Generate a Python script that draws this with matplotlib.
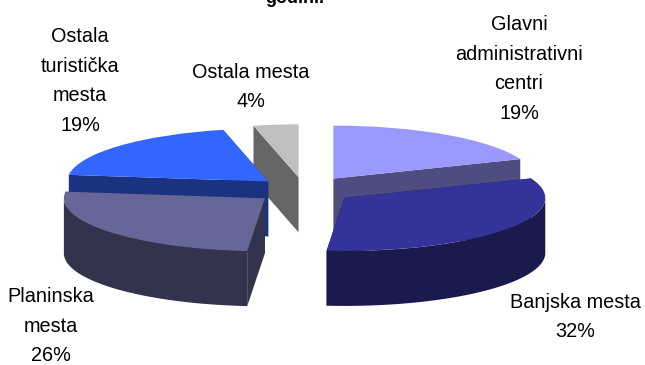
import numpy as np
import matplotlib
matplotlib.use("Agg")
import matplotlib.pyplot as plt

plt.rcParams['font.family'] = ['Liberation Sans', 'DejaVu Sans']

# clockwise from the top
values = [19, 32.4, 25.6, 19.4, 3.6]
labels = ["Glavni\nadministrativni\ncentri\n19%", "Banjska mesta\n32%", "Planinska\nmesta\n26%",
          "Ostala\nturistička\nmesta\n19%", "Ostala mesta\n4%"]
explode = [0.26, 0.25, 0.25, 0.24, 0.24]
top_colors = ["#9999FF", "#333399", "#666699", "#3366FF", "#C0C0C0"]
side_colors = ["#4D4D80", "#1A1A4D", "#33334D", "#1A3380", "#666666"]
draw_order = [4, 0, 3, 2, 1]

# label centres in pixels
label_x = [519, 575, 51, 80, 251]
label_y = [69, 317, 326, 81, 87]

W, H = 645, 365
CX, CY = 304, 190   # pie centre, px
RX, RY = 201, 53    # px per data unit
DEPTH = 55 / RY

fig = plt.figure(figsize=(W / 100, H / 100), dpi=100)
ax = fig.add_axes([0, 0, 1, 1])
wedges, _ = ax.pie(values, explode=explode, colors=top_colors, startangle=90, counterclock=False,
                   wedgeprops={"linewidth": 0})
# squash the pie: different scales on x and y
ax.set_aspect("auto")
ax.set_xlim(-CX / RX, (W - CX) / RX)
ax.set_ylim(-(H - CY) / RY, CY / RY)
ax.axis("off")


def draw_sides(w, color, z):
    x0, y0 = w.center
    t1, t2 = np.radians(w.theta1), np.radians(w.theta2)
    # the two cut faces
    for t in (t2, t1):
        ex, ey = x0 + w.r * np.cos(t), y0 + w.r * np.sin(t)
        ax.fill([x0, ex, ex, x0], [y0, ey, ey - DEPTH, y0 - DEPTH], color=color, lw=0, zorder=z)
    # outer wall, front half only
    th = np.linspace(t1, t2, 200)
    th = th[np.sin(th) <= 0]
    if len(th) > 1:
        xs = x0 + w.r * np.cos(th)
        ys = y0 + w.r * np.sin(th)
        ax.fill(np.r_[xs, xs[::-1]], np.r_[ys, ys[::-1] - DEPTH], color=color, lw=0, zorder=z + 0.1)


for n, i in enumerate(draw_order):
    draw_sides(wedges[i], side_colors[i], n + 1)
    wedges[i].set_zorder(n + 1.5)

for i in range(len(labels)):
    fig.text(label_x[i] / W, 1 - label_y[i] / H, labels[i], ha="center", va="center",
             fontsize=14.3, linespacing=1.72, color="black")

fig.text(295 / W, 1 - 3 / H, "godini.", ha="center", va="baseline", fontsize=13, fontweight="bold")

fig.savefig("out.png", dpi=100)
